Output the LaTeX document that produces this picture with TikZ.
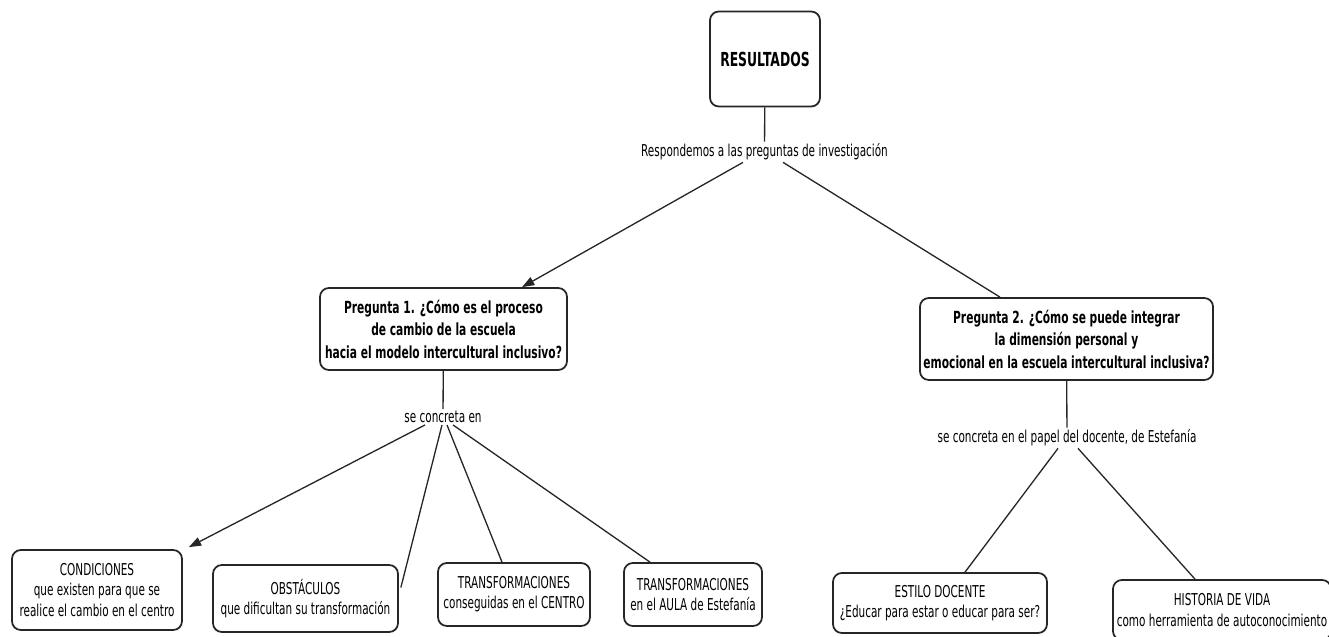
\documentclass[tikz,border=0pt]{standalone}
\usepackage{fontspec}
\setmainfont{DejaVu Sans}[FakeStretch=0.64]
\usetikzlibrary{arrows.meta,calc}
\begin{document}
\begin{tikzpicture}[x=0.02cm,y=-0.02cm,
    concept/.style={draw=black!85, line width=1pt, rounded corners=5pt, fill=white, align=center, inner sep=2pt, font=\fontsize{9.3}{11.5}\selectfont},
    question/.style={concept, font=\bfseries\fontsize{9.5}{12.8}\selectfont},
    linkword/.style={inner sep=1pt, font=\fontsize{9.3}{11}\selectfont},
    link/.style={draw=black!85, line width=0.75pt},
    linkarrow/.style={link, -{Triangle[length=7pt,width=5pt]}}]
    \useasboundingbox (0,0) rectangle (1329,636);
    \node[concept, font=\bfseries\fontsize{11}{13}\selectfont, minimum width=2.2cm, minimum height=1.9cm] (res) at (765,59) {RESULTADOS};
    \node[linkword] (resp) at (764.5,152) {Respondemos a las preguntas de investigación};
    \node[question, minimum width=4.94cm, minimum height=1.64cm] (p1) at (443.5,329) {Pregunta 1. ¿Cómo es el proceso\\de cambio de la escuela\\hacia el modelo intercultural inclusivo?};
    \node[question, minimum width=5.86cm, minimum height=1.64cm] (p2) at (1066.5,339) {Pregunta 2. ¿Cómo se puede integrar\\la dimensión personal y\\emocional en la escuela intercultural inclusiva?};
    \node[linkword] (conc1) at (443,417) {se concreta en};
    \node[linkword] (conc2) at (1067,438) {se concreta en el papel del docente, de Estefanía};
    \node[concept, minimum width=3.4cm, minimum height=1.6cm] (cond) at (97,590) {CONDICIONES\\que existen para que se\\realice el cambio en el centro};
    \node[concept, minimum width=3.7cm, minimum height=1.34cm] (obst) at (305.5,598.5) {OBSTÁCULOS\\que dificultan su transformación};
    \node[concept, minimum width=3.04cm, minimum height=1.26cm] (centro) at (514,594.5) {TRANSFORMACIONES\\conseguidas en el CENTRO};
    \node[concept, minimum width=2.76cm, minimum height=1.26cm] (aula) at (693,594.5) {TRANSFORMACIONES\\en el AULA de Estefanía};
    \node[concept, minimum width=4.28cm, minimum height=1.2cm] (estilo) at (940,603) {ESTILO DOCENTE\\¿Educar para estar o educar para ser?};
    \node[concept, minimum width=4.36cm, minimum height=1.2cm] (hist) at (1222,610) {HISTORIA DE VIDA\\como herramienta de autoconocimiento};
    \draw[link] (res) -- (resp);
    \draw[linkarrow] ($(resp.south)+(-21.5,0)$) -- ($(p1.north)+(78.5,0)$);
    \draw[link] ($(resp.south)+(18.5,0)$) -- ($(p2.north)+(-66.5,0)$);
    \draw[link] (p1) -- (conc1);
    \draw[linkarrow] ($(conc1.south)+(-18,0)$) -- ($(cond.north east)+(6,-2)$);
    \draw[link] ($(conc1.south)+(-1,0)$) -- ($(obst.east)+(2,-11)$);
    \draw[link] ($(conc1.south)+(4,0)$) -- ($(centro.north)+(-12,0)$);
    \draw[link] ($(conc1.south)+(10,0)$) -- ($(aula.north)+(-43,0)$);
    \draw[link] (p2) -- (conc2);
    \draw[link] ($(conc2.south)+(-9,0)$) -- ($(estilo.north)+(25,0)$);
    \draw[link] ($(conc2.south)+(11,0)$) -- ($(hist.north)+(-27,0)$);
\end{tikzpicture}
\end{document}
